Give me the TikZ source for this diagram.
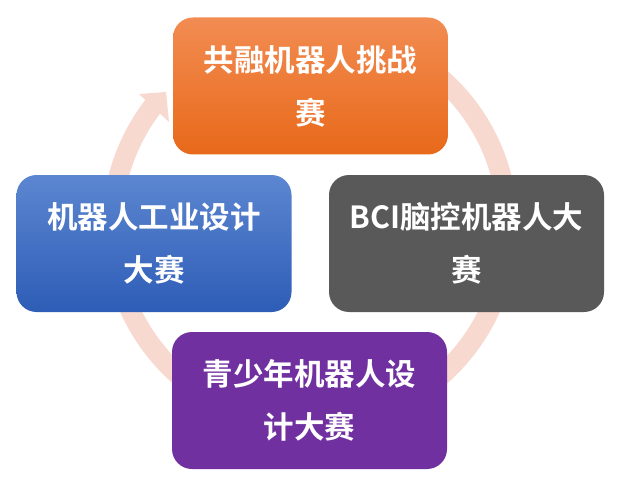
\documentclass[tikz,border=0pt]{standalone}
\usepackage{fontspec}
\newfontfamily\cjkb{Noto Sans CJK SC Bold}
\definecolor{arcpink}{HTML}{F8D9CF}
\definecolor{orangeT}{HTML}{F28C52}
\definecolor{orangeB}{HTML}{E8691A}
\definecolor{blueT}{HTML}{5C86D0}
\definecolor{blueB}{HTML}{2E5DB7}
\definecolor{greyF}{HTML}{595959}
\definecolor{purpleF}{HTML}{7030A0}
\begin{document}
\begin{tikzpicture}[x=1pt,y=1pt,
  boxstyle/.style={rectangle, rounded corners=20pt, minimum width=275pt, minimum height=137pt,
    inner sep=0pt, align=center, text=white, font=\cjkb\fontsize{30.5}{53}\selectfont}]
\useasboundingbox (0,0) rectangle (621,-484);
\coordinate (ctr) at (310,-227);
% circular arrow
\draw[arcpink, line width=20pt] (ctr) ++(60:198) arc[start angle=60, end angle=-218.5, radius=198];
\coordinate (h1) at (139,-94);
\coordinate (h2) at (166,-92);
\coordinate (h3) at (169,-122);
\fill[arcpink] (h1) -- (h2) -- (h3) -- cycle;
% boxes
\node[boxstyle, top color=orangeT, bottom color=orangeB] (top) at (310.5,-86) {共融机器人挑战\\赛};
\node[boxstyle, top color=blueT, bottom color=blueB] (left) at (154,-243.5) {机器人工业设计\\大赛};
\node[boxstyle, fill=greyF] (right) at (466.5,-243.5) {BCI脑控机器人大\\赛};
\node[boxstyle, fill=purpleF] (bottom) at (309.5,-400.5) {青少年机器人设\\计大赛};
\end{tikzpicture}
\end{document}
